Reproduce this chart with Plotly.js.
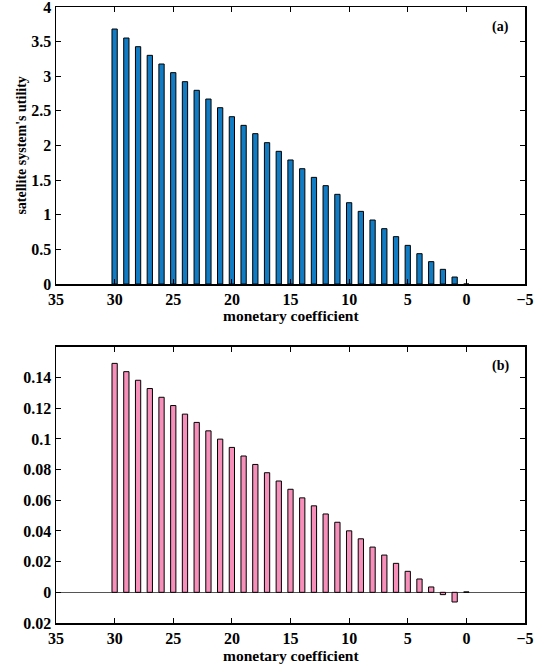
<!DOCTYPE html>
<html><head><meta charset="utf-8">
<script src="https://cdn.plot.ly/plotly-3.0.1.min.js"></script>
<style>body{margin:0;background:#fff}#c{width:539px;height:664px}</style>
</head><body><div id="c"></div>
<script>
const coeff = [30,29,28,27,26,25,24,23,22,21,20,19,18,17,16,15,14,13,12,11,10,9,8,7,6,5,4,3,2,1,0];
const utilityA = [3.682,3.552,3.427,3.302,3.177,3.052,2.922,2.797,2.671,2.546,2.416,2.291,2.171,2.041,1.916,1.791,1.665,1.540,1.420,1.295,1.174,1.049,0.924,0.799,0.684,0.558,0.438,0.323,0.212,0.101,0];
const valueB = [0.1493,0.1439,0.1383,0.1329,0.1272,0.1218,0.1162,0.1108,0.1053,0.0999,0.0945,0.0889,0.0834,0.0780,0.0726,0.0672,0.0616,0.0564,0.0511,0.0457,0.0401,0.0349,0.0295,0.0243,0.0189,0.0137,0.0087,0.0035,-0.0015,-0.0063,0.0003];
const xTicks = [35,30,25,20,15,10,5,0,-5];
const yTicksA = [0,0.5,1,1.5,2,2.5,3,3.5,4];
const yTextA = ['0','0.5','1','1.5','2','2.5','3','3.5','4'];
const yTicksB = [-0.02,0,0.02,0.04,0.06,0.08,0.1,0.12,0.14];
const yTextB = ['0.02','0','0.02','0.04','0.06','0.08','0.1','0.12','0.14'];

const F = 'Liberation Serif, Times New Roman, serif';
const tickFont = {family:F, size:16, color:'#000', weight:'bold'};
const xTitleFont = {family:F, size:15.5, color:'#000', weight:'bold'};
const yTitleFont = {family:F, size:14, color:'#000', weight:'bold'};

const traces = [
  {type:'bar', x:coeff, y:utilityA, width:0.45, xaxis:'x', yaxis:'y',
   marker:{color:'#117cc3', line:{color:'#000', width:1}}, hoverinfo:'x+y'},
  {type:'bar', x:coeff, y:valueB, width:0.45, xaxis:'x2', yaxis:'y2',
   marker:{color:'#f68fba', line:{color:'#000', width:1}}, hoverinfo:'x+y'}
];

const xBase = {range:[35,-5], tickmode:'array', tickvals:xTicks, ticks:'inside', ticklen:5,
  tickcolor:'#000', showline:true, linecolor:'#000', linewidth:1.5, mirror:'ticks',
  showgrid:false, zeroline:false, tickfont:tickFont, ticklabeloverflow:'allow'};

const layout = {
  width:539, height:664, showlegend:false, plot_bgcolor:'#fff', paper_bgcolor:'#fff',
  margin:{l:56, r:14, t:7, b:41},
  bargap:0,
  xaxis: Object.assign({}, xBase, {anchor:'y', domain:[0,1]}),
  yaxis: {domain:[0.5503,1], range:[0,4], tickmode:'array', tickvals:yTicksA, ticktext:yTextA,
    ticks:'inside', ticklen:5, tickcolor:'#000', showline:true, linecolor:'#000', linewidth:1.5,
    mirror:'ticks', showgrid:false, zeroline:false, tickfont:tickFont, ticklabeloverflow:'allow'},
  xaxis2: Object.assign({}, xBase, {anchor:'y2', domain:[0,1]}),
  yaxis2: {domain:[0,0.4481], range:[-0.02,0.16], tickmode:'array', tickvals:yTicksB, ticktext:yTextB,
    ticks:'inside', ticklen:5, tickcolor:'#000', showline:true, linecolor:'#000', linewidth:1.5,
    mirror:'ticks', showgrid:false, zeroline:true, zerolinecolor:'#555', zerolinewidth:1.2,
    tickfont:tickFont, ticklabeloverflow:'allow'},
  annotations:[
    {text:'monetary coefficient', xref:'paper', yref:'paper', x:0.5, y:0.500, yanchor:'middle', showarrow:false, font:xTitleFont},
    {text:'monetary coefficient', xref:'paper', yref:'paper', x:0.5, y:-0.053, yanchor:'middle', showarrow:false, font:xTitleFont},
    {text:"satellite system's utility", xref:'paper', yref:'paper', x:-0.0725, y:0.775, xanchor:'center', yanchor:'middle', textangle:-90, showarrow:false, font:yTitleFont},
    {text:'(a)', xref:'x', yref:'y', x:-2.95, y:3.71, showarrow:false, font:{family:F,size:14,color:'#000',weight:'bold'}},
    {text:'(b)', xref:'x2', yref:'y2', x:-2.95, y:0.1476, showarrow:false, font:{family:F,size:14,color:'#000',weight:'bold'}}
  ]
};
Plotly.newPlot('c', traces, layout, {staticPlot:true});
</script></body></html>
